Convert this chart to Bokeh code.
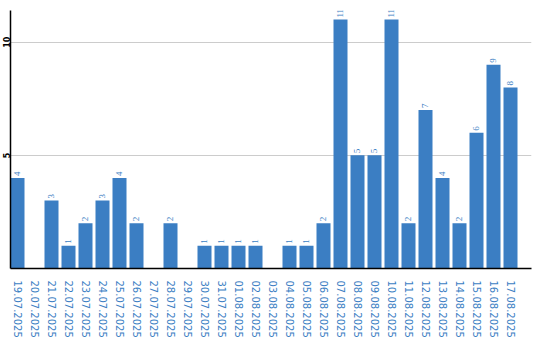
from bokeh.plotting import figure
from bokeh.models import ColumnDataSource, Range1d, FixedTicker, LabelSet
from bokeh.embed import file_html
from bokeh.resources import INLINE

dates = ["19.07.2025", "20.07.2025", "21.07.2025", "22.07.2025", "23.07.2025",
         "24.07.2025", "25.07.2025", "26.07.2025", "27.07.2025", "28.07.2025",
         "29.07.2025", "30.07.2025", "31.07.2025", "01.08.2025", "02.08.2025",
         "03.08.2025", "04.08.2025", "05.08.2025", "06.08.2025", "07.08.2025",
         "08.08.2025", "09.08.2025", "10.08.2025", "11.08.2025", "12.08.2025",
         "13.08.2025", "14.08.2025", "15.08.2025", "16.08.2025", "17.08.2025"]
counts = [4, 0, 3, 1, 2, 3, 4, 2, 0, 2,
          0, 1, 1, 1, 1, 0, 1, 1, 2, 11,
          5, 5, 11, 2, 7, 4, 2, 6, 9, 8]
y_ticks = [5, 10]

BLUE = "#3b7ec3"
BAR_W = 14 / 17
centers = [i + BAR_W / 2 for i in range(len(dates))]

src = ColumnDataSource(dict(x=centers, y=counts))
lab_x = [c for c, v in zip(centers, counts) if v > 0]
lab_y = [v for v in counts if v > 0]
lab_t = [str(v) for v in counts if v > 0]
lsrc = ColumnDataSource(dict(x=lab_x, y=lab_y, t=lab_t))

p = figure(width=540, height=340, output_backend="svg", toolbar_location=None,
           x_range=Range1d(0, 521 / 17), y_range=Range1d(0, 11.4),
           min_border_left=0, min_border_right=9, min_border_top=10,
           min_border_bottom=70)
p.outline_line_color = None
p.background_fill_color = "white"

p.vbar(x="x", top="y", bottom=0, width=BAR_W, source=src,
       fill_color=BLUE, line_color=None)
labels = LabelSet(x="x", y="y", text="t", source=lsrc, angle=90,
                  angle_units="deg", text_align="left",
                  text_baseline="middle", y_offset=2,
                  text_font="DejaVu Sans", text_font_size="9px",
                  text_color=BLUE)
p.add_layout(labels)

# x axis
xa = p.xaxis[0]
xa.ticker = FixedTicker(ticks=centers)
xa.major_label_overrides = {c: d for c, d in zip(centers, dates)}
xa.major_label_orientation = "vertical"
xa.major_label_text_font = "DejaVu Sans"
xa.major_label_text_font_size = "10px"
xa.major_label_text_color = BLUE
xa.major_label_standoff = 6
xa.major_tick_line_color = None
xa.minor_tick_line_color = None
xa.axis_line_color = "black"
xa.axis_line_width = 1.5

# y axis
ya = p.yaxis[0]
ya.ticker = FixedTicker(ticks=y_ticks)
ya.major_label_orientation = "vertical"
ya.major_label_text_font = "DejaVu Sans"
ya.major_label_text_font_size = "8px"
ya.major_label_text_font_style = "bold"
ya.major_label_text_color = "black"
ya.major_label_standoff = -6
ya.major_tick_line_color = None
ya.minor_tick_line_color = None
ya.axis_line_color = "black"
ya.axis_line_width = 1.5

p.xgrid.visible = False
p.ygrid.ticker = FixedTicker(ticks=y_ticks)
p.ygrid.grid_line_color = "#cccccc"
p.ygrid.grid_line_width = 1

open("out.html", "w").write(file_html(p, INLINE))
